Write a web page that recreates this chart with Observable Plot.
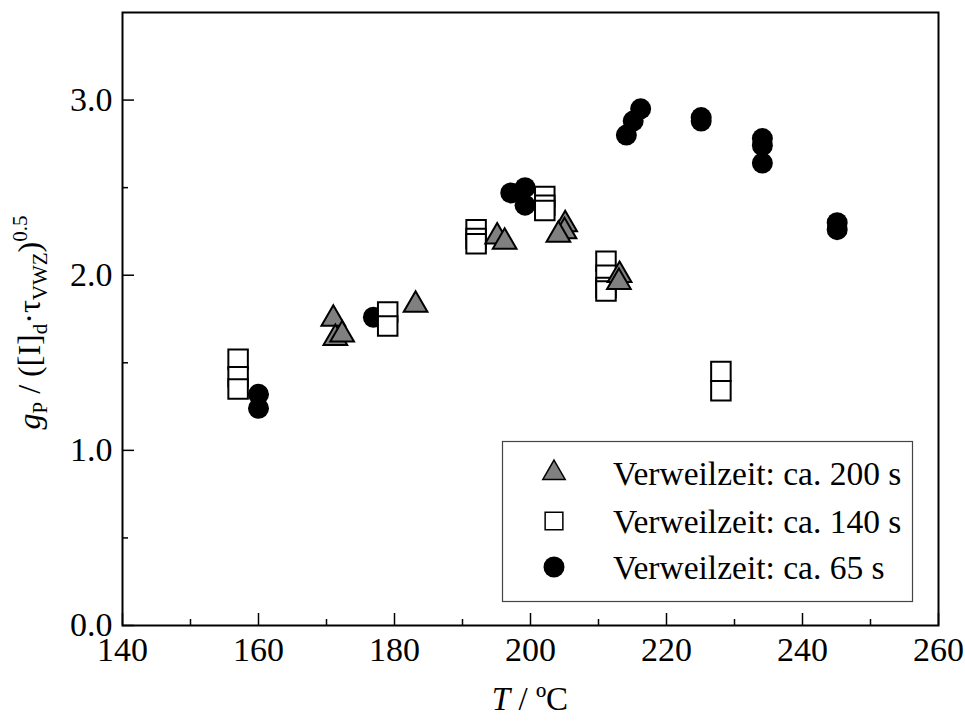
<!DOCTYPE html>
<html><head><meta charset="utf-8">
<script src="https://cdn.jsdelivr.net/npm/d3@7"></script>
<script src="https://cdn.jsdelivr.net/npm/@observablehq/plot@0.6"></script>
<style>body{margin:0;background:#fff} #chart svg{font-family:"Liberation Serif","Times New Roman",serif}</style>
</head><body><div id="chart"></div>
<script>
// Series: Verweilzeit ca. 200 s (triangles)
const triT = [171.0, 171.3, 172.3, 183.1, 195.1, 196.2, 205.1, 205.0, 204.1, 213.1, 213.0];
const triG = [1.75, 1.64, 1.66, 1.83, 2.22, 2.19, 2.29, 2.25, 2.23, 2.00, 1.96];
// Series: Verweilzeit ca. 140 s (squares)
const sqT = [157.0, 157.0, 157.0, 179.0, 179.0, 192.0, 192.0, 192.0, 202.1, 202.1, 202.1, 211.1, 211.1, 211.1, 211.1, 228.0, 228.0];
const sqG = [1.52, 1.42, 1.35, 1.79, 1.71, 2.26, 2.21, 2.18, 2.45, 2.40, 2.37, 2.08, 2.00, 1.93, 1.91, 1.45, 1.34];
// Series: Verweilzeit ca. 65 s (circles)
const ciT = [160.0, 160.0, 176.9, 197.1, 199.2, 199.2, 214.1, 215.1, 216.2, 225.1, 225.1, 234.1, 234.1, 234.1, 245.1, 245.1];
const ciG = [1.32, 1.24, 1.76, 2.47, 2.50, 2.40, 2.80, 2.88, 2.95, 2.90, 2.88, 2.78, 2.74, 2.64, 2.30, 2.26];

const seriesLabels = ["Verweilzeit: ca. 200 s", "Verweilzeit: ca. 140 s", "Verweilzeit: ca. 65 s"];
const xMajor = [140, 160, 180, 200, 220, 240, 260];
const xMinor = [150, 170, 190, 210, 230, 250];
const yMajor = [0, 1, 2, 3];
const yMinor = [0.5, 1.5, 2.5];

const tri = triT.map((t, i) => ({T: t, g: triG[i]}));
const sq = sqT.map((t, i) => ({T: t, g: sqG[i]}));
const ci = ciT.map((t, i) => ({T: t, g: ciG[i]}));

const W = 965, H = 722, mL = 122, mR = 27, mT = 12, mB = 97;
const pW = W - mL - mR, pH = H - mT - mB;

const plot = Plot.plot({
  width: W, height: H,
  marginLeft: mL, marginRight: mR, marginTop: mT, marginBottom: mB,
  x: {domain: [140, 260]},
  y: {domain: [0, 3.5]},
  style: {fontFamily: "Liberation Serif", fontSize: "34px", background: "white", color: "black"},
  marks: [
    Plot.ruleX(xMajor, {insetTop: pH - 12, stroke: "black", strokeWidth: 1.5}),
    Plot.ruleX(xMinor, {insetTop: pH - 6, stroke: "black", strokeWidth: 1.5}),
    Plot.ruleY(yMajor, {insetRight: pW - 12, stroke: "black", strokeWidth: 1.5}),
    Plot.ruleY(yMinor, {insetRight: pW - 6, stroke: "black", strokeWidth: 1.5}),
    Plot.axisX({ticks: xMajor, tickSize: 0, tickPadding: 11, tickFormat: d => String(d), label: null, fontSize: 34}),
    Plot.axisY({ticks: yMajor, tickSize: 0, tickPadding: 10, tickFormat: d => d.toFixed(1), label: null, fontSize: 34}),
    Plot.dot(ci, {x: "T", y: "g", symbol: "circle", r: 10.5, fill: "black", stroke: "none"}),
    Plot.dot(sq, {x: "T", y: "g", symbol: "square", r: 11, fill: "white", stroke: "black", strokeWidth: 2}),
    Plot.dot(tri, {x: "T", y: "g", symbol: "triangle", r: 8.8, fill: "#808080", stroke: "black", strokeWidth: 2}),
    Plot.frame({stroke: "black", strokeWidth: 2})
  ]
});
document.getElementById("chart").appendChild(plot);

const svg = d3.select(plot);
const font = "Liberation Serif";

// X label
const xl = svg.append("text").attr("x", mL + pW / 2).attr("y", 710)
  .attr("text-anchor", "middle").attr("font-family", font).attr("font-size", 33).attr("fill", "black");
xl.append("tspan").attr("font-style", "italic").text("T");
xl.append("tspan").text(" / ºC");

// Y label
const yl = svg.append("text").attr("transform", `translate(40,${mT + pH / 2 + 4}) rotate(-90)`)
  .attr("text-anchor", "middle").attr("font-family", font).attr("font-size", 32).attr("fill", "black");
yl.append("tspan").attr("font-style", "italic").text("g");
yl.append("tspan").attr("font-size", 21).attr("dy", 7).text("P");
yl.append("tspan").attr("dy", -7).text(" / ([I]");
yl.append("tspan").attr("font-size", 21).attr("dy", 7).text("d");
yl.append("tspan").attr("dy", -7).text("·τ");
yl.append("tspan").attr("font-size", 21).attr("dy", 7).text("VWZ");
yl.append("tspan").attr("dy", -7).text(")");
yl.append("tspan").attr("font-size", 21).attr("dy", -13).text("0.5");

// Legend
const lg = svg.append("g").attr("text-anchor", "start");
lg.append("rect").attr("x", 502.5).attr("y", 441.5).attr("width", 410).attr("height", 160)
  .attr("fill", "white").attr("stroke", "#444").attr("stroke-width", 1.2);
const rows = [
  {label: seriesLabels[0], type: d3.symbolTriangle, r: 8.3, fill: "#808080", stroke: "black", sw: 1.5, cy: 473},
  {label: seriesLabels[1], type: d3.symbolSquare, r: 10, fill: "white", stroke: "black", sw: 1.5, cy: 521},
  {label: seriesLabels[2], type: d3.symbolCircle, r: 10.5, fill: "black", stroke: "none", sw: 0, cy: 567}
];
rows.forEach(row => {
  lg.append("path").attr("d", d3.symbol(row.type, Math.PI * row.r * row.r)())
    .attr("transform", `translate(554,${row.cy})`)
    .attr("fill", row.fill).attr("stroke", row.stroke).attr("stroke-width", row.sw);
  lg.append("text").attr("x", 613).attr("y", row.cy).attr("dy", "0.35em").attr("text-anchor", "start")
    .attr("font-family", font).attr("font-size", 33.5).attr("fill", "black").text(row.label);
});
</script>
</body></html>
